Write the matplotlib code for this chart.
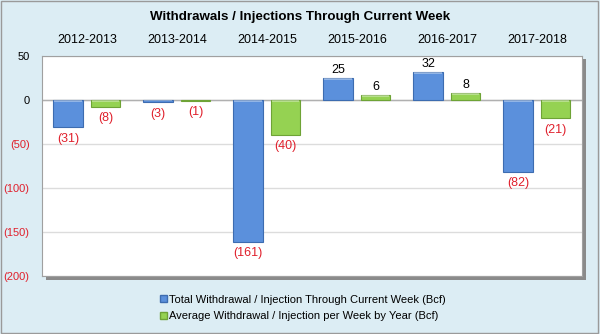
import numpy as np
import matplotlib.pyplot as plt
from matplotlib.patches import Rectangle

plt.rcParams['font.family'] = ['Liberation Sans', 'DejaVu Sans']

seasons = ['2012-2013', '2013-2014', '2014-2015', '2015-2016', '2016-2017', '2017-2018']
total_bcf = [-31, -3, -161, 25, 32, -82]
weekly_avg_bcf = [-8, -1, -40, 6, 8, -21]
yticks = [50, 0, -50, -100, -150, -200]

BG = '#dcedf4'
BLUE = '#5b90dc'
BLUE_EDGE = '#3d6cb0'
GREEN = '#95d252'
GREEN_EDGE = '#6ea336'
RED = '#e0202c'


def fmt(v):
    return f'({abs(v)})' if v < 0 else f'{v}'


def main():
    fig = plt.figure(figsize=(6.0, 3.34), dpi=100, facecolor=BG)
    fig.patches.append(Rectangle((0.002, 0.003), 0.995, 0.994, transform=fig.transFigure,
                                 fill=False, edgecolor='#9a9a9a', linewidth=1.0, zorder=-2))

    pos = [0.07, 0.174, 0.9, 0.659]
    # drop shadow on the right and bottom of the plot area
    fig.patches.append(Rectangle((pos[0] + 0.007, pos[1] - 0.011), pos[2], pos[3],
                                 transform=fig.transFigure, facecolor='#8a8a8a',
                                 edgecolor='none', zorder=-1))

    ax = fig.add_axes(pos)
    ax.set_facecolor('white')

    x = np.arange(len(seasons))
    w = 0.33
    for offset, vals, fc, ec in ((-0.21, total_bcf, BLUE, BLUE_EDGE),
                                 (0.205, weekly_avg_bcf, GREEN, GREEN_EDGE)):
        ax.bar(x + offset, vals, w, color=fc, edgecolor=ec, linewidth=0.8, zorder=3)
        # light bevel along the top edge of each bar
        for xi, v in zip(x + offset, vals):
            top = max(v, 0)
            ax.add_patch(Rectangle((xi - w / 2 + 0.01, top - min(2.5, abs(v) * 0.4)),
                                   w - 0.02, min(2.5, abs(v) * 0.4), facecolor='white',
                                   alpha=0.35, edgecolor='none', zorder=4))
        for xi, v in zip(x + offset, vals):
            off = 9 if v >= 0 else -13
            ax.text(xi, v + off, fmt(v), ha='center', va='center', fontsize=9,
                    color='black' if v >= 0 else RED)

    ax.set_xlim(-0.5, len(seasons) - 0.5)
    ax.set_ylim(-200, 50)
    ax.set_yticks(yticks)
    ax.set_yticklabels([fmt(t) for t in yticks], fontsize=8)
    for lbl, t in zip(ax.get_yticklabels(), yticks):
        lbl.set_color('black' if t >= 0 else RED)
    ax.tick_params(axis='y', length=0, pad=9)
    ax.yaxis.grid(True, color='#dcdcdc', linewidth=1.0, zorder=0)
    ax.axhline(0, color='#b0b0b0', linewidth=1.0, zorder=2)

    ax.xaxis.tick_top()
    ax.set_xticks(x)
    ax.set_xticklabels(seasons, fontsize=9)
    ax.tick_params(axis='x', length=0, pad=7)

    for s in ax.spines.values():
        s.set_color('#a0a0a0')
        s.set_linewidth(0.8)

    fig.text(0.5, 0.948, 'Withdrawals / Injections Through Current Week', ha='center',
             va='center', fontsize=9.6, fontweight='bold')

    handles = [Rectangle((0, 0), 1, 1, facecolor=BLUE, edgecolor=BLUE_EDGE),
               Rectangle((0, 0), 1, 1, facecolor=GREEN, edgecolor=GREEN_EDGE)]
    labels = ['Total Withdrawal / Injection Through Current Week (Bcf)',
              'Average Withdrawal / Injection per Week by Year (Bcf)']
    fig.legend(handles, labels, loc='center', bbox_to_anchor=(0.505, 0.078), frameon=False,
               fontsize=8.0, handlelength=0.6, handleheight=0.6, handletextpad=0.25,
               labelspacing=0.6, borderpad=0)

    fig.savefig('out.png', dpi=100, facecolor=BG)


if __name__ == "__main__":
    main()
